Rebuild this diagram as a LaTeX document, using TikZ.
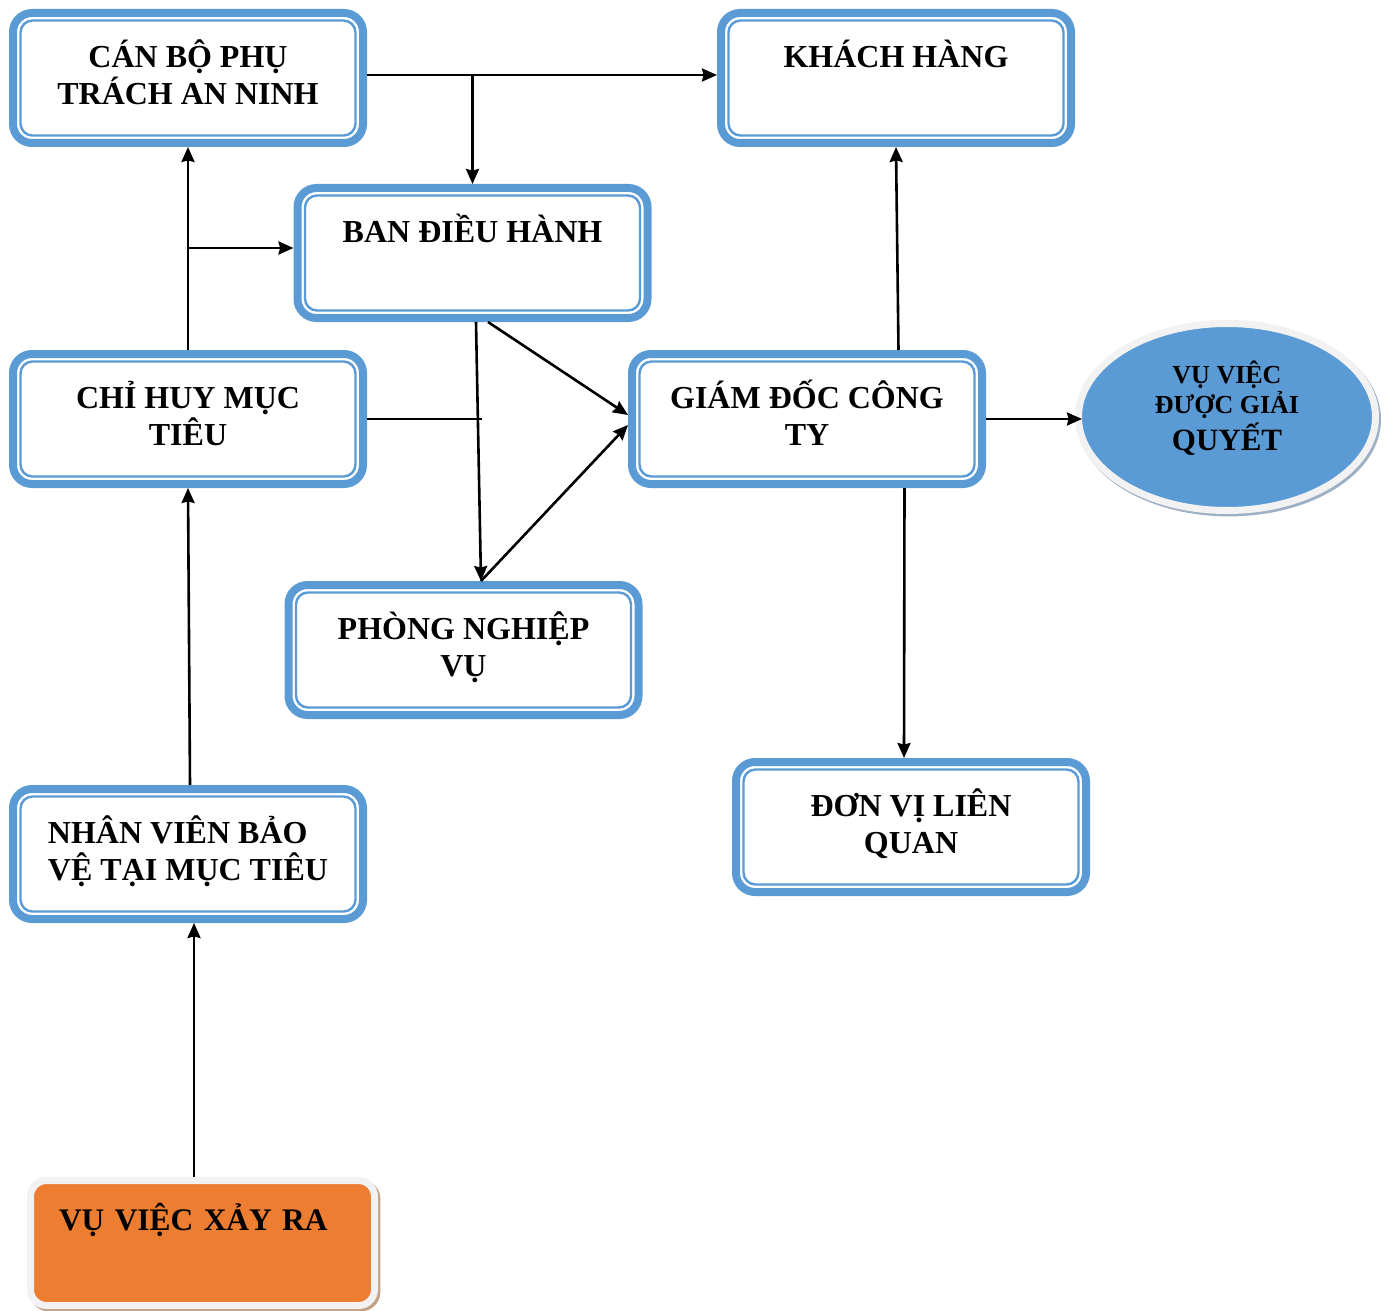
\documentclass[tikz,border=0pt]{standalone}
\usepackage{fontspec}
\setmainfont{Liberation Serif}
\usetikzlibrary{positioning,arrows.meta,shapes.geometric,shadows}
\definecolor{boxblue}{HTML}{5B9BD5}
\definecolor{ringgray}{HTML}{F2F2F2}
\definecolor{caseorange}{HTML}{ED7D31}
\definecolor{shtan}{HTML}{C4A184}
\definecolor{shblue}{HTML}{9DB0C6}
\tikzset{x=0.5pt, y=-0.5pt,
	box/.style={draw=boxblue, line width=4pt, rounded corners=9.5pt, fill=white, minimum width=175pt, minimum height=65pt, align=center, text depth=6pt, font=\fontsize{16}{18.5}\selectfont\bfseries},
	leftbox/.style={box, align=left},
	innerline/.style={draw=boxblue, line width=1.2pt, rounded corners=6pt},
	goal/.style={ellipse, draw=ringgray, fill=boxblue, line width=3.5pt, minimum width=148.5pt, minimum height=93.5pt, inner sep=0pt, align=center, text depth=11pt, font=\fontsize{13}{15}\selectfont\bfseries,
		drop shadow={shadow xshift=1pt, shadow yshift=-1.2pt, fill=shblue, draw=shblue, line width=3.5pt, opacity=1}},
	start/.style={draw=ringgray, fill=caseorange, line width=3.5pt, rounded corners=8pt, minimum width=172pt, minimum height=62.5pt, align=left, text width=143.5pt, text depth=26.5pt, font=\fontsize{15.7}{18.5}\selectfont\bfseries,
		drop shadow={shadow xshift=1.2pt, shadow yshift=-1.2pt, fill=shtan, draw=shtan, line width=3.5pt, opacity=1}},
	arr/.style={line width=1.3pt, -{Stealth[length=7.5pt,width=6.5pt,inset=0.8pt]}}}

\begin{document}
\begin{tikzpicture}
	\useasboundingbox (0,0) rectangle (1394,1311);

	\node[box] (canbo) at (188,78) {CÁN BỘ PHỤ\\TRÁCH AN NINH};
	\node[box] (khach) [right=175pt of canbo] {KHÁCH HÀNG\\~};
	\node[box] (ban) [below=18.5pt of canbo, xshift=142.25pt] {BAN ĐIỀU HÀNH\\~};
	\node[box] (chihuy) [below=101.5pt of canbo] {CHỈ HUY MỤC\\TIÊU};
	\node[box] (giamdoc) [right=130.5pt of chihuy] {GIÁM ĐỐC CÔNG\\TY};
	\node[box] (phong) [below=129.5pt of ban, xshift=-4.5pt] {PHÒNG NGHIỆP\\VỤ};
	\node[box] (donvi) [below=135pt of giamdoc, xshift=52pt] {ĐƠN VỊ LIÊN\\QUAN};
	\node[leftbox] (nhanvien) [below=148.5pt of chihuy] {NHÂN VIÊN BẢO\\VỆ TẠI MỤC TIÊU};
	\node[start] (xayra) [below=127pt of nhanvien, xshift=7.25pt] {VỤ VIỆC XẢY RA\\~};
	\node[goal] (ketqua) [right=44.5pt of giamdoc, yshift=1pt] {VỤ VIỆC\\ĐƯỢC GIẢI\\[1pt]{\fontsize{15.5}{18}\selectfont QUYẾT}};

	\foreach \n in {canbo,khach,ban,chihuy,giamdoc,phong,donvi,nhanvien}
		\draw[innerline] ([shift={(5.75pt,-5.75pt)}]\n.north west) rectangle ([shift={(-5.75pt,5.75pt)}]\n.south east);

	\coordinate (cbe) at ([yshift=1.5pt]canbo.east);
	\coordinate (bw) at ([yshift=2.5pt]ban.west);
	\coordinate (cross) at ([xshift=57.5pt]chihuy.east);
	\coordinate (phn) at ([xshift=8.75pt]phong.north);
	\coordinate (nvs) at ([xshift=3pt]nhanvien.south);

	\draw[arr] (cbe) -- (cbe -| khach.west);
	\draw[arr] (cbe -| ban.north) -- (ban.north);
	\draw[arr] (chihuy.north) -- (canbo.south);
	\draw[arr] (chihuy.north |- bw) -- (bw);
	\path[draw, line width=1.3pt] (chihuy.east) -- (cross);
	\draw[arr] ([xshift=1.75pt]ban.south) -- (phn);
	\draw[arr] ([xshift=7.75pt]ban.south) -- ([yshift=2pt]giamdoc.west);
	\draw[arr] (phn) -- ([yshift=-3pt]giamdoc.west);
	\draw[arr] ([xshift=45.75pt]giamdoc.north) -- (khach.south);
	\draw[arr] (giamdoc.east) -- ([xshift=3.5pt]giamdoc.east -| ketqua.west);
	\draw[arr] ([xshift=48.75pt]giamdoc.south) -- ([xshift=-3.5pt]donvi.north);
	\draw[arr] ([xshift=1pt]nhanvien.north) -- (chihuy.south);
	\draw[arr] (xayra.north -| nvs) -- (nvs);
\end{tikzpicture}
\end{document}
